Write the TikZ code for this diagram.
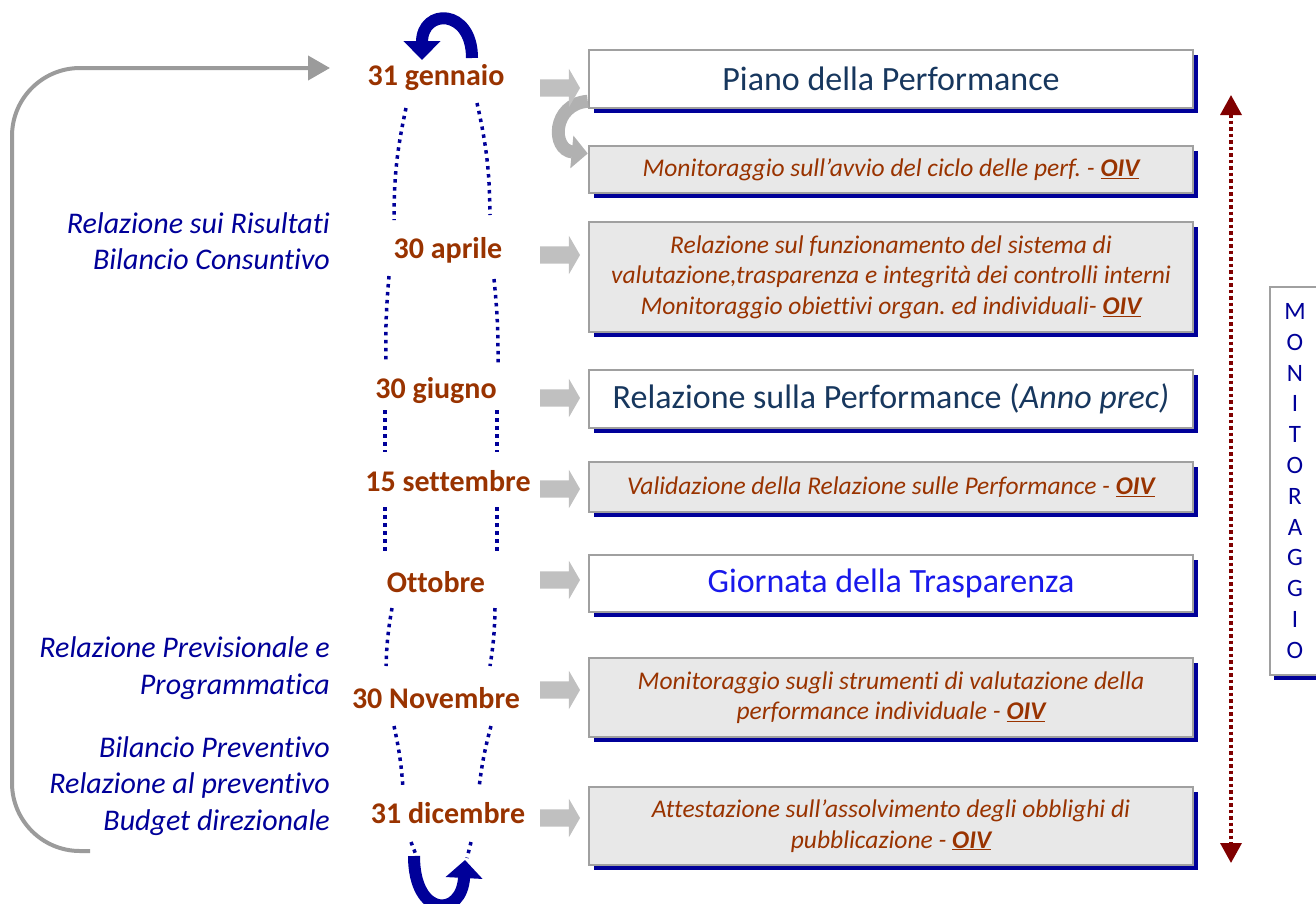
\documentclass[tikz,border=0pt]{standalone}
\usepackage{fontspec}
\setmainfont[Ligatures=NoCommon]{Carlito}
\usetikzlibrary{arrows.meta,shapes.arrows,shadows}
\definecolor{datebrown}{RGB}{153,51,0}
\definecolor{navytext}{RGB}{23,55,94}
\definecolor{darkblue}{RGB}{0,0,153}
\definecolor{brightblue}{RGB}{25,25,235}
\definecolor{boxgray}{RGB}{232,232,232}
\definecolor{bordergray}{RGB}{160,160,160}
\definecolor{arrowgray}{RGB}{192,192,192}
\definecolor{linegray}{RGB}{155,155,155}
\definecolor{darkred}{RGB}{128,0,0}
\newcommand{\oiv}{\textbf{\underline{OIV}}}
\frenchspacing

\begin{document}
\begin{tikzpicture}[x=1pt,y=-1pt,
	date node/.style={font=\fontsize{30}{34}\selectfont\bfseries,text=datebrown},
	step box/.style={draw=bordergray,line width=2.5pt,minimum width=604pt,align=center,general shadow={fill=darkblue,shadow xshift=5pt,shadow yshift=-5pt}},
	big box/.style={step box,fill=white,font=\fontsize{34}{40}\selectfont,text=navytext},
	small box/.style={step box,fill=boxgray,font=\fontsize{25.5}{30.5}\selectfont\itshape,text=datebrown},
	side text/.style={anchor=east,align=right,inner sep=0pt,font=\fontsize{30}{36.5}\selectfont\itshape,text=darkblue},
	block arrow/.style={single arrow,fill=arrowgray,inner sep=8.5pt,single arrow head extend=10.5pt,single arrow tip angle=120,minimum height=40pt},
	cycle line/.style={draw=darkblue,line width=3.5pt,dash pattern=on 3.5pt off 4.5pt}]
	\useasboundingbox (0,0) rectangle (1316,903);
	% big return arrow on the left
	\draw[linegray,line width=4pt,rounded corners=68pt,-{Triangle[width=24pt,length=22pt]}] (90,851) -- (12,851) -- (12,68) -- (330,68);
	% boxes
	\node[big box,minimum height=58pt] (piano) at (891,79) {Piano della Performance};
	\node[small box,minimum height=47pt] (avvio) at (891,169.5) {Monitoraggio sull’avvio del ciclo delle perf. - \oiv};
	\draw[arrowgray!92!black,line width=13pt,-{Triangle[width=32pt,length=16pt]}] ([yshift=8pt]piano.south west) .. controls (552,104) and (551,150) .. ([yshift=16pt]avvio.west);
	\node[small box,minimum height=110pt] (funz) at (891,277) {Relazione sul funzionamento del sistema di\\valutazione,trasparenza e integrità dei controlli interni\\Monitoraggio obiettivi organ. ed individuali- \oiv};
	\node[big box,minimum height=58pt] (relaz) at (891,399) {Relazione sulla Performance (\textit{Anno prec)}};
	\node[small box,minimum height=50pt] (valid) at (891,487) {Validazione della Relazione sulle Performance - \oiv};
	\node[big box,minimum height=57pt,text=brightblue] (giorn) at (891,583.5) {Giornata della Trasparenza};
	\node[small box,minimum height=79pt] (strum) at (891,697.5) {Monitoraggio sugli strumenti di valutazione della\\performance individuale - \oiv};
	\node[small box,minimum height=78pt] (attest) at (891,826) {Attestazione sull’assolvimento degli obblighi di\\pubblicazione - \oiv};
	% dates
	\node[date node] (gen) at (436,78) {31 gennaio};
	\node[date node] (apr) at (448,250) {30 aprile};
	\node[date node] (giu) at (436,391) {30 giugno};
	\node[date node] (set) at (448,481) {15 settembre};
	\node[date node] (ott) at (436,582) {Ottobre};
	\node[date node] (nov) at (436,698) {30 Novembre};
	\node[date node] (dic) at (448,813) {31 dicembre};
	% gray block arrows
	\node[block arrow] (a1) at (557.5,88) {};
	\node[block arrow] (a2) at (557.5,255) {};
	\node[block arrow] (a3) at (557.5,398) {};
	\node[block arrow] (a4) at (557.5,489) {};
	\node[block arrow] (a5) at (557.5,580) {};
	\node[block arrow] (a6) at (557.5,690) {};
	\node[block arrow] (a7) at (557.5,818) {};
	% dotted cycle
	\draw[cycle line] (406,108) to[bend right=6] (394,220);
	\draw[cycle line] (477,103) to[bend left=6] (490,215);
	\draw[cycle line] (389,276) to[bend right=3] (386,362);
	\draw[cycle line] (494,279) to[bend left=3] (498,364);
	\draw[cycle line] (385,410) -- (385,452);
	\draw[cycle line] (497,410) -- (497,452);
	\draw[cycle line] (385,507) -- (385,553);
	\draw[cycle line] (497,507) -- (497,553);
	\draw[cycle line] (392,608) to[bend right=4] (386,666);
	\draw[cycle line] (495,608) to[bend left=4] (490,666);
	\draw[cycle line] (394,726) to[bend left=4] (403,788);
	\draw[cycle line] (491,726) to[bend right=4] (479,788);
	\draw[cycle line] (411,842) -- (418,860);
	\draw[cycle line] (471,842) -- (467,858);
	% blue turn arrows
	\draw[darkblue,line width=12pt,-{Triangle[width=36pt,length=19pt]}] (472,58) .. controls (472,8) and (422,8) .. (422,60);
	\draw[darkblue,line width=12pt,-{Triangle[width=36pt,length=18pt]}] (414,856) .. controls (414,918) and (462,918) .. (465,860);
	% monitoring
	\draw[darkred,line width=3.5pt,dash pattern=on 3.5pt off 3pt,{Triangle[width=21pt,length=20pt]}-{Triangle[width=21pt,length=20pt]}] (1231,95) -- (1231,863);
	\node[draw=bordergray,line width=2.5pt,fill=white,general shadow={fill=darkblue,shadow xshift=4pt,shadow yshift=-5pt},minimum width=50pt,minimum height=388pt,align=center,font=\fontsize{25}{30.8}\selectfont,text=darkblue] (moni) at (1295,481) {M\\O\\N\\I\\T\\O\\R\\A\\G\\G\\I\\O};
	% left notes
	\node[side text] (ris) at (330,241) {Relazione sui Risultati\\Bilancio Consuntivo};
	\node[side text] (prev) at (330,668) {Relazione Previsionale e\\Programmatica};
	\node[side text] (bud) at (330,786) {Bilancio Preventivo\\Relazione al preventivo\\Budget direzionale};
\end{tikzpicture}
\end{document}
